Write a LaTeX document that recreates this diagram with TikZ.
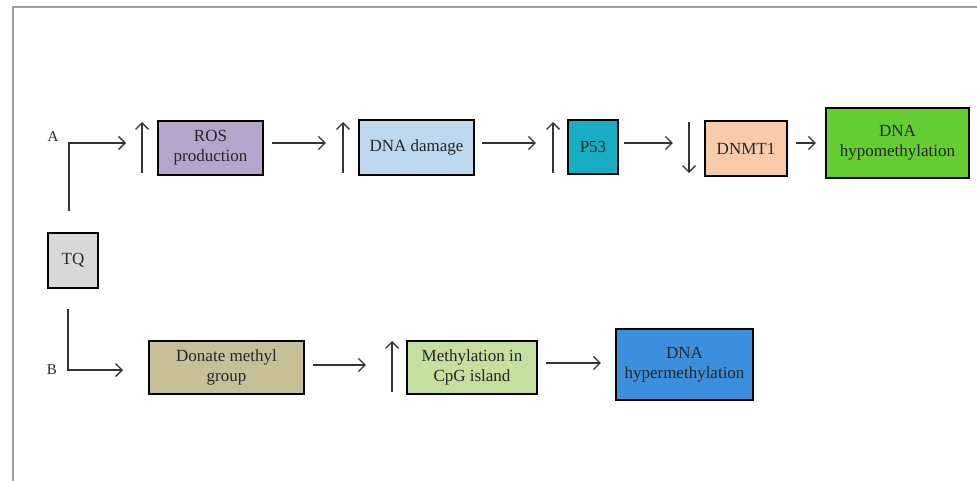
\documentclass[tikz,border=0pt]{standalone}
\usepackage{fontspec}
\setmainfont{Liberation Serif}
\usetikzlibrary{arrows.meta}
\definecolor{cros}{HTML}{B4A5CC}
\definecolor{cdna}{HTML}{BDD7EE}
\definecolor{cp53}{HTML}{17AEC4}
\definecolor{cdnmt}{HTML}{F9CBAD}
\definecolor{chypo}{HTML}{66CC33}
\definecolor{ctq}{HTML}{D9D9D9}
\definecolor{cdon}{HTML}{C6BF98}
\definecolor{cmeth}{HTML}{C4DF9E}
\definecolor{chyper}{HTML}{3C8FDD}
\definecolor{cline}{HTML}{333333}
\definecolor{cframe}{HTML}{A0A0A0}
\begin{document}
\begin{tikzpicture}[x=1pt,y=-1pt,
  box/.style={draw=black,line width=2.2pt,align=center,inner sep=0pt,
    font=\fontsize{17}{20}\selectfont,text=black!85},
  arr/.style={draw=cline,line width=1.3pt,-{Straight Barb[length=6.5pt,width=13pt]}},
  lbl/.style={font=\fontsize{15}{17}\selectfont,text=black!85,inner sep=0pt}]
\useasboundingbox (0,0) rectangle (977,481);
\draw[cframe,line width=1.5pt] (13,481) -- (13,7) -- (977,7);
% boxes
\node[box,fill=ctq,minimum width=50pt,minimum height=55pt] (tq) at (73,260.5) {TQ};
\node[box,fill=cros,minimum width=105pt,minimum height=54pt] (ros) at (210.5,148) {ROS\\production};
\node[box,fill=cdna,minimum width=115pt,minimum height=55pt] (dna) at (416.5,147.5) {DNA damage};
\node[box,fill=cp53,minimum width=50pt,minimum height=54pt] (p53) at (593,147) {P53};
\node[box,fill=cdnmt,minimum width=82pt,minimum height=55pt] (dnmt) at (746,148.5) {DNMT1};
\node[box,fill=chypo,minimum width=143pt,minimum height=70pt] (hypo) at (897.5,143) {DNA\\hypomethylation};
\node[box,fill=cdon,minimum width=155pt,minimum height=53pt] (don) at (226.5,367.5) {Donate methyl\\group};
\node[box,fill=cmeth,minimum width=130pt,minimum height=53pt] (meth) at (472,367.5) {Methylation in\\CpG island};
\node[box,fill=chyper,minimum width=137pt,minimum height=71pt] (hyper) at (684.5,364.5) {DNA\\hypermethylation};
% labels
\node[lbl] (la) at (53,137) {A};
\node[lbl] (lb) at (52,370) {B};
% branch A and B
\coordinate (acorner) at (69,143);
\coordinate (aend) at (126,143);
\coordinate (bcorner) at (68,370);
\coordinate (bend) at (123,370);
\draw[arr] ([yshift=21pt]tq.north -| acorner) -- (acorner) -- (aend);
\draw[arr] ([yshift=-20pt]tq.south -| bcorner) -- (bcorner) -- (bend);
% up/down indicator arrows
\coordinate (u1a) at (142,173); \coordinate (u1b) at (142,122);
\coordinate (u2a) at (343,173); \coordinate (u2b) at (343,122);
\coordinate (u3a) at (553,173); \coordinate (u3b) at (553,122);
\coordinate (d4a) at (689,122); \coordinate (d4b) at (689,173);
\coordinate (u5a) at (392,392); \coordinate (u5b) at (392,341);
\draw[arr] (u1a) -- (u1b);
\draw[arr] (u2a) -- (u2b);
\draw[arr] (u3a) -- (u3b);
\draw[arr] (d4a) -- (d4b);
\draw[arr] (u5a) -- (u5b);
% flow arrows
\draw[arr] ([xshift=8pt,yshift=5pt]ros.east) -- ([xshift=-32pt,yshift=4.5pt]dna.west);
\draw[arr] ([xshift=7pt,yshift=4.5pt]dna.east) -- ([xshift=-31pt,yshift=4pt]p53.west);
\draw[arr] ([xshift=5pt,yshift=4pt]p53.east) -- ([xshift=-31pt,yshift=5.5pt]dnmt.west);
\draw[arr] ([xshift=8pt,yshift=5.5pt]dnmt.east) -- ([xshift=-9pt,yshift=0pt]hypo.west);
\draw[arr] ([xshift=8pt,yshift=2.5pt]don.east) -- ([xshift=-40pt,yshift=2.5pt]meth.west);
\draw[arr] ([xshift=8pt,yshift=4.5pt]meth.east) -- ([xshift=-14pt,yshift=1.5pt]hyper.west);
\end{tikzpicture}
\end{document}
